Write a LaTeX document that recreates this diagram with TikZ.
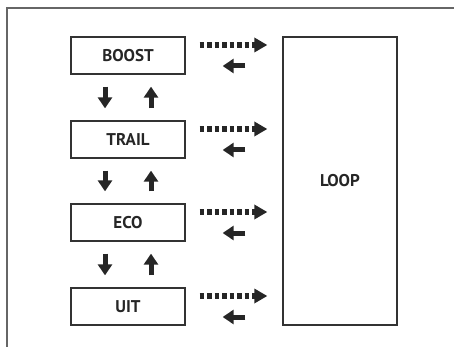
\documentclass[tikz,border=0pt]{standalone}
\usepackage{fontspec}
\setmainfont{PT Sans}
\usetikzlibrary{arrows.meta}
\tikzset{
  modebox/.style={draw=black!80, line width=1.3pt, minimum width=114pt, minimum height=37pt, inner sep=0pt, font=\bfseries\fontsize{17}{19}\selectfont, text=black!85},
  loopbox/.style={modebox, minimum height=288pt},
  solidarrow/.style={draw=black!85, line width=5pt, -{Triangle[length=11pt,width=14pt]}},
  dotarrow/.style={draw=black!85, line width=6pt, dash pattern=on 4.5pt off 3pt, -{Triangle[length=13pt,width=14pt]}},
  frameline/.style={draw=black!60, line width=1.2pt}
}
\begin{document}
\begin{tikzpicture}[x=1pt,y=-1pt]
\useasboundingbox (0,0) rectangle (454,347);
\draw[frameline] (7,350) -- (7,8) -- (460,8);
\node[modebox] (boost) at (128,55.5) {BOOST};
\node[modebox] (trail) at (128,139.5) {TRAIL};
\node[modebox] (eco) at (128,222.5) {ECO};
\node[modebox] (uit) at (128,306.5) {UIT};
\node[loopbox] (loop) at (340,181) {LOOP};
\foreach \a/\b in {boost/trail,trail/eco,eco/uit}{
  \draw[solidarrow, shorten <=12pt, shorten >=12pt] ([xshift=-23pt]\a.south) -- ([xshift=-23pt]\b.north);
  \draw[solidarrow, shorten <=12pt, shorten >=12pt] ([xshift=23pt]\b.north) -- ([xshift=23pt]\a.south);
}
\foreach \m in {boost,trail,eco,uit}{
  \coordinate (\m-hi) at ([yshift=10.5pt]\m.east);
  \coordinate (\m-lo) at ([yshift=-10.5pt]\m.east);
  \draw[dotarrow, shorten <=14pt, shorten >=15pt] (\m-hi) -- (loop.west |- \m-hi);
  \draw[solidarrow, shorten <=37pt, shorten >=37pt] (loop.west |- \m-lo) -- (\m-lo);
}
\end{tikzpicture}
\end{document}
